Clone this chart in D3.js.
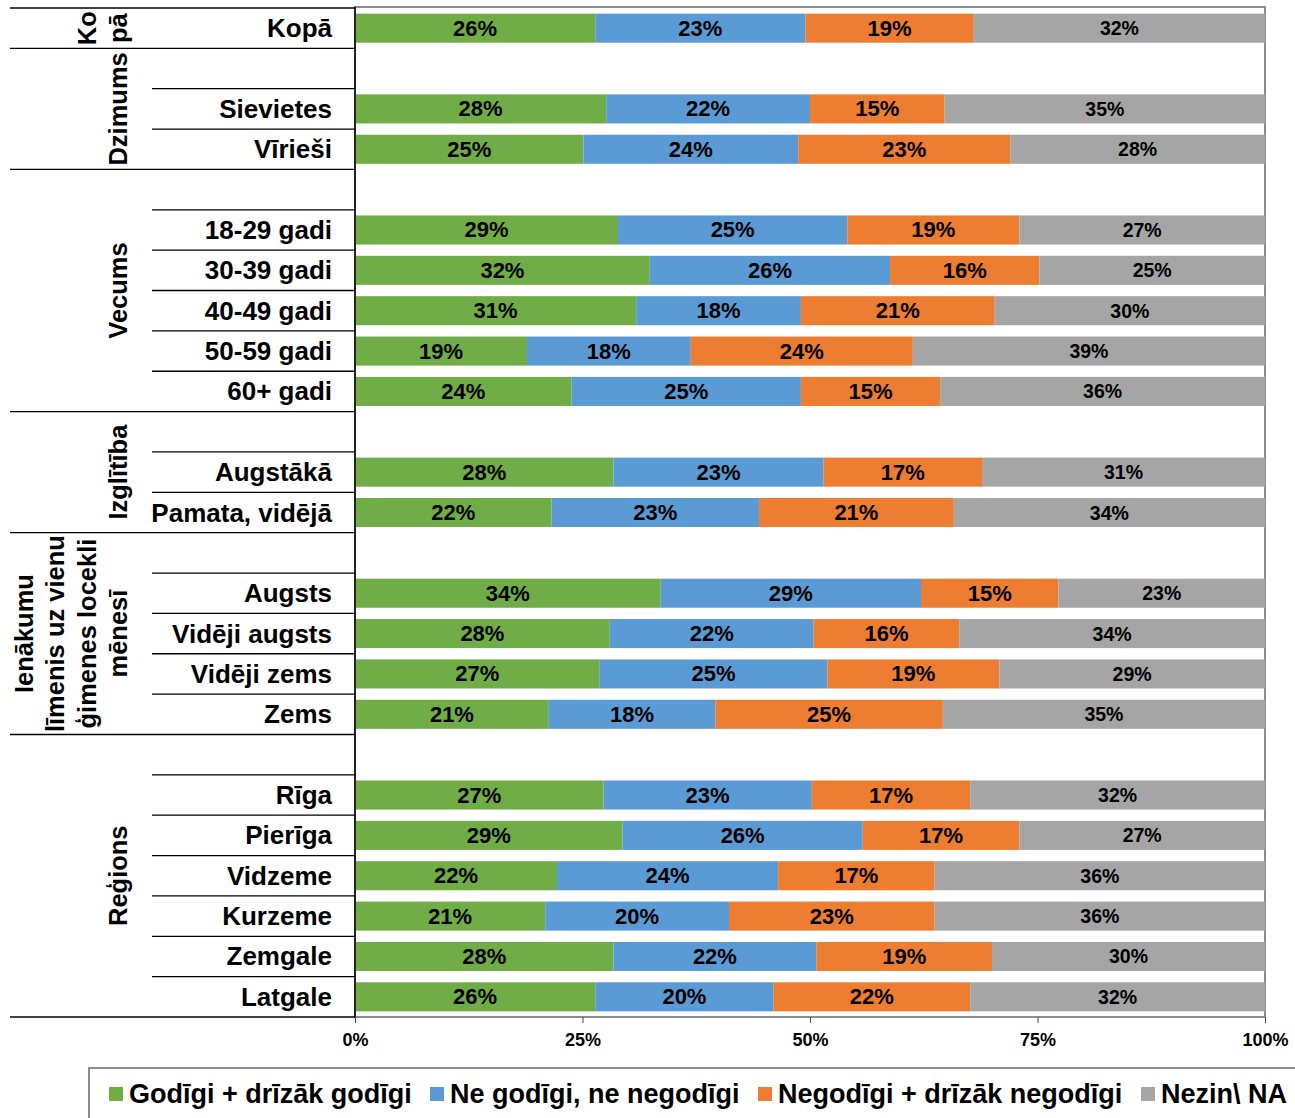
<!DOCTYPE html>
<html><head><meta charset="utf-8">
<script src="https://cdn.jsdelivr.net/npm/d3@7"></script>
<style>body{margin:0;background:#fff}svg{display:block;font-family:"Liberation Sans",Arial,sans-serif}</style>
</head><body><svg id="c" width="1295" height="1118"></svg>
<script>
const categories = ["Kopā","","Sievietes","Vīrieši","","18-29 gadi","30-39 gadi","40-49 gadi","50-59 gadi","60+ gadi","","Augstākā","Pamata, vidējā","","Augsts","Vidēji augsts","Vidēji zems","Zems","","Rīga","Pierīga","Vidzeme","Kurzeme","Zemgale","Latgale"];
const rowGroup = [0,1,1,1,2,2,2,2,2,2,3,3,3,4,4,4,4,4,5,5,5,5,5,5,5];
const groupLines = [["Ko","pā"],["Dzimums"],["Vecums"],["Izglītība"],["Ienākumu","līmenis uz vienu","ģimenes locekli","mēnesī"],["Reģions"]];
const seriesNames = ["Godīgi + drīzāk godīgi","Ne godīgi, ne negodīgi","Negodīgi + drīzāk negodīgi","Nezin\\ NA"];
const seriesColors = ["#70AD47","#5B9BD5","#ED7D31","#A5A5A5"];
const godigi   = [26.4,null,27.6,25.1,null,28.9,32.4,30.9,18.9,23.8,null,28.4,21.6,null,33.6,28.0,26.9,21.3,null,27.3,29.4,22.2,20.9,28.4,26.4];
const neitrali = [23.1,null,22.4,23.6,null,25.2,26.4,18.1,18.0,25.2,null,23.1,22.8,null,28.6,22.4,25.0,18.3,null,22.9,26.4,24.3,20.2,22.3,19.6];
const negodigi = [18.5,null,14.8,23.3,null,18.9,16.4,21.3,24.4,15.3,null,17.4,21.4,null,15.1,16.0,18.9,25.0,null,17.4,17.2,17.2,22.6,19.3,21.6];
const nezin    = [32.0,null,35.2,28.0,null,27.0,24.8,29.7,38.7,35.7,null,31.1,34.2,null,22.7,33.6,29.2,35.4,null,32.4,27.0,36.3,36.3,30.0,32.4];
const xTicks = [0,25,50,75,100];

const series = [godigi,neitrali,negodigi,nezin];
const svg = d3.select("#c");
const x = d3.scaleLinear().domain([0,100]).range([355,1265]);
const y = d3.scaleBand().domain(d3.range(categories.length)).range([8,1017]).paddingInner(0.28).paddingOuter(0.14);
const step = y.step();
const rowTop = i => y(i) - y.paddingInner()*step/2;

// plot border
svg.append("rect").attr("x",x(0)).attr("y",7).attr("width",x(100)-x(0)).attr("height",1017-7)
  .attr("fill","none").attr("stroke","#8c8c8c").attr("stroke-width",2);

// bars
const stacks = categories.map((c,i)=>{let acc=0;return series.map((s,k)=>{const v=s[i];const o={i,k,v,x0:acc,x1:acc+(v||0)};acc+=v||0;return o;});});
const segs = stacks.flat().filter(d=>d.v!=null);
svg.append("g").selectAll("rect").data(segs).join("rect")
  .attr("x",d=>x(d.x0)).attr("width",d=>x(d.x1)-x(d.x0))
  .attr("y",d=>y(d.i)).attr("height",y.bandwidth()).attr("fill",d=>seriesColors[d.k]);
svg.append("g").selectAll("text").data(segs).join("text")
  .attr("x",d=>(x(d.x0)+x(d.x1))/2).attr("y",d=>y(d.i)+y.bandwidth()/2)
  .attr("text-anchor","middle").attr("dominant-baseline","central")
  .attr("font-size",d=>d.k===3?19.5:22).attr("font-weight","bold").attr("fill","#000")
  .text(d=>Math.round(d.v)+"%");

// row separators
const lines = svg.append("g").attr("stroke","#000").attr("stroke-width",1.3);
lines.append("line").attr("x1",10).attr("x2",355).attr("y1",8).attr("y2",8);
for(let i=1;i<=categories.length;i++){
  const yy = i===categories.length ? 1017 : rowTop(i);
  const full = i===categories.length || rowGroup[i]!==rowGroup[i-1];
  lines.append("line").attr("x1",full?10:152).attr("x2",355).attr("y1",yy).attr("y2",yy);
}
svg.append("line").attr("x1",355).attr("x2",355).attr("y1",7).attr("y2",1017).attr("stroke","#000").attr("stroke-width",1.5);

// category labels
svg.append("g").selectAll("text").data(categories.map((c,i)=>({c,i})).filter(d=>d.c)).join("text")
  .attr("x",332).attr("y",d=>y(d.i)+y.bandwidth()/2).attr("dominant-baseline","central")
  .attr("text-anchor","end").attr("font-size",26).attr("font-weight","bold").text(d=>d.c);

// group labels
groupLines.forEach((ls,g)=>{
  const idx = rowGroup.map((r,i)=>r===g?i:-1).filter(i=>i>=0);
  const top = idx[0]===0?8:rowTop(idx[0]);
  const last = idx[idx.length-1];
  const bot = last===categories.length-1?1017:rowTop(last+1);
  const cy = (top+bot)/2;
  ls.forEach((t,j)=>{
    const cx = 118 - (ls.length-1-j)*31.5;
    svg.append("text").attr("transform",`translate(${cx},${cy}) rotate(-90)`)
      .attr("text-anchor","middle").attr("dominant-baseline","central")
      .attr("font-size",25.5).attr("font-weight","bold").text(t);
  });
});

// x axis
const ax = svg.append("g").attr("transform","translate(0,1017)")
  .call(d3.axisBottom(x).tickValues(xTicks).tickFormat(d=>d+"%").tickSize(6).tickPadding(10));
ax.select(".domain").remove();
ax.selectAll("line").attr("stroke","#444");
ax.selectAll("text").attr("font-size",18).attr("font-weight","bold").attr("font-family","Liberation Sans, Arial, sans-serif").attr("fill","#000");

// legend
svg.append("rect").attr("x",89).attr("y",1068).attr("width",1220).attr("height",60)
  .attr("fill","#fff").attr("stroke","#8c8c8c").attr("stroke-width",2);
const legX = [109,430,758,1141];
const lg = svg.append("g").selectAll("g").data(seriesNames).join("g")
  .attr("transform",(d,i)=>`translate(${legX[i]},1094)`);
lg.append("rect").attr("x",0).attr("y",-7).attr("width",14).attr("height",14).attr("fill",(d,i)=>seriesColors[i]);
lg.append("text").attr("x",20).attr("y",0).attr("dominant-baseline","central")
  .attr("font-size",27).attr("font-weight","bold").text(d=>d);
</script></body></html>
